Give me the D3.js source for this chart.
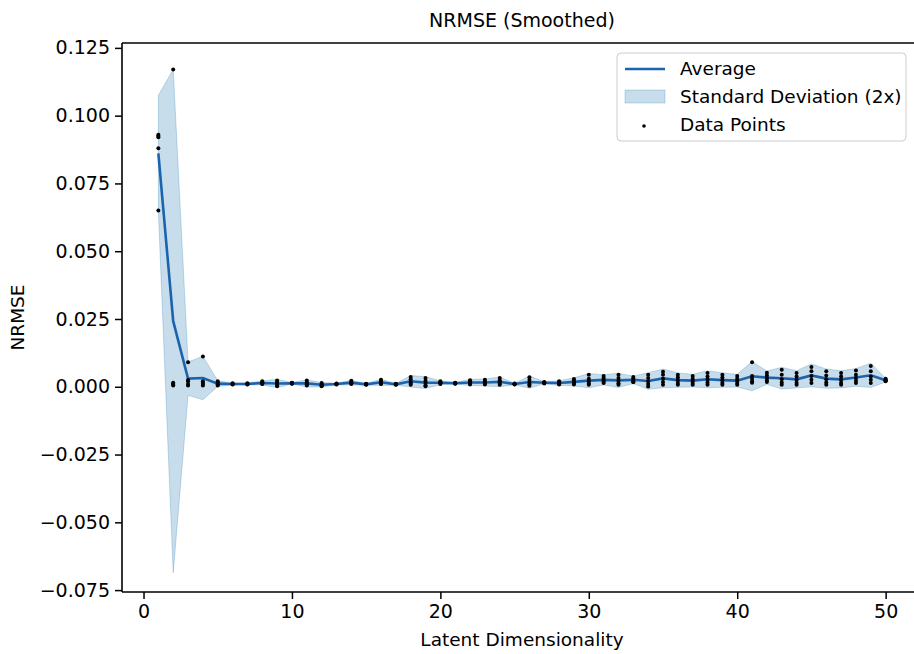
<!DOCTYPE html>
<html>
<head>
<meta charset="utf-8">
<script src="https://cdn.jsdelivr.net/npm/d3@7"></script>
<style>
  body { margin: 0; background: #fff; }
  text { font-family: "DejaVu Sans", sans-serif; fill: #000; }
</style>
</head>
<body>
<svg id="chart"></svg>
<script>

// latent dims 1..50, five runs each
var dims = d3.range(1, 51);

var run1 = [0.0930,0.1170,0.0090,0.0112,0.0020,0.0013,0.0013,0.0020,0.0023,0.0015,
            0.0023,0.0014,0.0012,0.0022,0.0011,0.0026,0.0011,0.0036,0.0032,0.0020,
            0.0015,0.0024,0.0026,0.0032,0.0012,0.0035,0.0018,0.0020,0.0029,0.0044,
            0.0040,0.0044,0.0036,0.0044,0.0055,0.0044,0.0040,0.0051,0.0044,0.0040,
            0.0090,0.0052,0.0063,0.0051,0.0073,0.0057,0.0051,0.0060,0.0077,0.0030];
var run2 = [0.0925,0.0015,0.0025,0.0020,0.0015,0.0011,0.0011,0.0016,0.0018,0.0014,
            0.0016,0.0010,0.0011,0.0018,0.0010,0.0020,0.0010,0.0028,0.0022,0.0017,
            0.0014,0.0020,0.0020,0.0024,0.0011,0.0025,0.0016,0.0017,0.0023,0.0030,
            0.0032,0.0032,0.0030,0.0032,0.0044,0.0034,0.0030,0.0038,0.0034,0.0030,
            0.0040,0.0042,0.0044,0.0038,0.0057,0.0042,0.0038,0.0044,0.0057,0.0026];
var run3 = [0.0920,0.0010,0.0020,0.0015,0.0010,0.0010,0.0010,0.0013,0.0012,0.0013,
            0.0011,0.0007,0.0010,0.0014,0.0009,0.0015,0.0009,0.0018,0.0015,0.0015,
            0.0013,0.0016,0.0015,0.0017,0.0010,0.0015,0.0015,0.0014,0.0018,0.0020,
            0.0024,0.0022,0.0025,0.0020,0.0030,0.0024,0.0022,0.0026,0.0024,0.0022,
            0.0030,0.0032,0.0028,0.0026,0.0040,0.0028,0.0026,0.0032,0.0038,0.0024];
var run4 = [0.0880,0.0010,0.0010,0.0010,0.0008,0.0009,0.0009,0.0011,0.0006,0.0012,
            0.0007,0.0004,0.0009,0.0012,0.0008,0.0012,0.0008,0.0012,0.0006,0.0012,
            0.0012,0.0012,0.0011,0.0011,0.0009,0.0008,0.0014,0.0010,0.0012,0.0012,
            0.0018,0.0013,0.0020,0.0010,0.0018,0.0014,0.0014,0.0016,0.0014,0.0014,
            0.0020,0.0024,0.0016,0.0015,0.0026,0.0016,0.0015,0.0022,0.0026,0.0022];
var run5 = [0.0650,0.0005,0.0005,0.0005,0.0005,0.0008,0.0008,0.0010,0.0002,0.0011,
            0.0005,0.0002,0.0008,0.0010,0.0007,0.0010,0.0007,0.0007,0.0002,0.0010,
            0.0011,0.0008,0.0008,0.0007,0.0008,0.0004,0.0012,0.0008,0.0008,0.0007,
            0.0014,0.0007,0.0017,0.0001,0.0007,0.0007,0.0007,0.0007,0.0007,0.0007,
            0.0015,0.0018,0.0007,0.0007,0.0014,0.0007,0.0007,0.0014,0.0014,0.0020];

var xTicks = [0, 10, 20, 30, 40, 50];
var yTicks = [-0.075, -0.05, -0.025, 0, 0.025, 0.05, 0.075, 0.1, 0.125];
var legendLabels = ["Average", "Standard Deviation (2x)", "Data Points"];

var runs = [run1, run2, run3, run4, run5];

var width = 914, height = 654;
var margin = {top: 43, right: -8, bottom: 62, left: 122};

var x = d3.scaleLinear()
    .domain([-1.45, 52.45])
    .range([margin.left, width - margin.right]);

var y = d3.scaleLinear()
    .domain([-0.0757, 0.1268])
    .range([height - margin.bottom, margin.top]);

var lineColor = "#1c63ae",
    bandColor = "#1f77b4";

// mean and population std per dimension
var stats = dims.map(function(d, i) {
  var vals = runs.map(function(r) { return r[i]; });
  var m = d3.mean(vals);
  var sd = Math.sqrt(d3.mean(vals, function(v) { return (v - m) * (v - m); }));
  return {dim: d, mean: m, lo: m - 2 * sd, hi: m + 2 * sd};
});

var pts = [];
runs.forEach(function(r) {
  r.forEach(function(v, i) { pts.push({dim: dims[i], val: v}); });
});

var svg = d3.select("#chart")
    .attr("width", width)
    .attr("height", height);

var area = d3.area()
    .x(function(d) { return x(d.dim); })
    .y0(function(d) { return y(d.lo); })
    .y1(function(d) { return y(d.hi); });

var line = d3.line()
    .x(function(d) { return x(d.dim); })
    .y(function(d) { return y(d.mean); });

svg.append("path")
    .datum(stats)
    .attr("d", area)
    .style("fill", bandColor)
    .style("fill-opacity", 0.25)
    .style("stroke", bandColor)
    .style("stroke-opacity", 0.25)
    .style("stroke-width", 1);

svg.append("path")
    .datum(stats)
    .attr("d", line)
    .style("fill", "none")
    .style("stroke", lineColor)
    .style("stroke-width", 2.6);

svg.selectAll(".dot")
    .data(pts)
  .enter().append("circle")
    .attr("class", "dot")
    .attr("cx", function(d) { return x(d.dim); })
    .attr("cy", function(d) { return y(d.val); })
    .attr("r", 2)
    .style("fill", "#000");

// axes
var xAxis = d3.axisBottom(x).tickValues(xTicks).tickSize(7).tickPadding(6).tickFormat(d3.format("d"));
var yAxis = d3.axisLeft(y).tickValues(yTicks).tickSize(7).tickPadding(5).tickFormat(d3.format(".3f"));

var gx = svg.append("g")
    .attr("transform", "translate(0," + (height - margin.bottom) + ")")
    .call(xAxis);
var gy = svg.append("g")
    .attr("transform", "translate(" + margin.left + ",0)")
    .call(yAxis);

[gx, gy].forEach(function(g) {
  g.select(".domain").remove();
  g.selectAll("line").style("stroke", "#000").style("stroke-width", 1.5);
  g.selectAll("text").style("font-size", "19px").style("font-family", "DejaVu Sans");
});

// spines: left, bottom, top
svg.append("line").attr("x1", margin.left).attr("x2", margin.left)
    .attr("y1", margin.top).attr("y2", height - margin.bottom)
    .style("stroke", "#000").style("stroke-width", 1.6);
svg.append("line").attr("x1", margin.left).attr("x2", width)
    .attr("y1", height - margin.bottom).attr("y2", height - margin.bottom)
    .style("stroke", "#000").style("stroke-width", 1.6);
svg.append("line").attr("x1", margin.left).attr("x2", width)
    .attr("y1", margin.top).attr("y2", margin.top)
    .style("stroke", "#000").style("stroke-width", 1.6);

svg.append("text")
    .attr("x", 522).attr("y", 27)
    .attr("text-anchor", "middle")
    .style("font-size", "19px")
    .text("NRMSE (Smoothed)");

svg.append("text")
    .attr("x", 522).attr("y", 646)
    .attr("text-anchor", "middle")
    .style("font-size", "18.5px")
    .text("Latent Dimensionality");

svg.append("text")
    .attr("transform", "translate(24," + ((margin.top + height - margin.bottom) / 2) + ") rotate(-90)")
    .attr("text-anchor", "middle")
    .style("font-size", "18.5px")
    .text("NRMSE");

// legend
var lg = svg.append("g").attr("transform", "translate(617,53)");
lg.append("rect")
    .attr("width", 289).attr("height", 88)
    .attr("rx", 4)
    .style("fill", "#fff").style("fill-opacity", 0.8)
    .style("stroke", "#ccc");
lg.append("line")
    .attr("x1", 8).attr("x2", 48).attr("y1", 16).attr("y2", 16)
    .style("stroke", lineColor).style("stroke-width", 2.6);
lg.append("rect")
    .attr("x", 8).attr("y", 37).attr("width", 40).attr("height", 13)
    .style("fill", bandColor).style("fill-opacity", 0.25)
    .style("stroke", bandColor).style("stroke-opacity", 0.25);
lg.append("circle")
    .attr("cx", 27).attr("cy", 73).attr("r", 1.8)
    .style("fill", "#000");
lg.selectAll(".ltext")
    .data(legendLabels)
  .enter().append("text")
    .attr("class", "ltext")
    .attr("x", 63)
    .attr("y", function(d, i) { return 22 + i * 28; })
    .style("font-size", "18.5px")
    .text(function(d) { return d; });

</script>
</body>
</html>
